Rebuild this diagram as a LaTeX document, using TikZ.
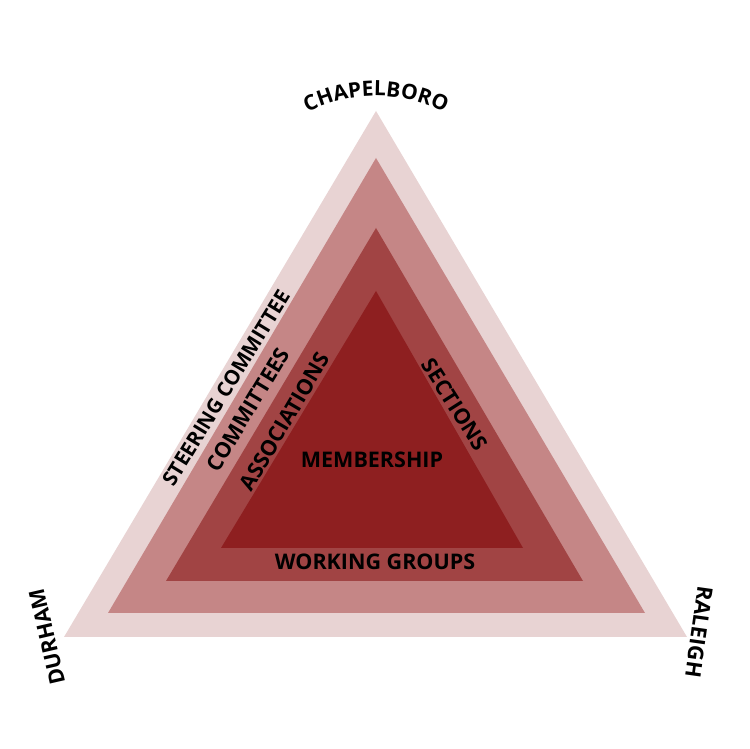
\documentclass[tikz,border=0pt]{standalone}
\usepackage{fontspec}
\setmainfont{Open Sans}
\usetikzlibrary{decorations.text}
\definecolor{tone1}{HTML}{E8D3D3}
\definecolor{tone2}{HTML}{C58686}
\definecolor{tone3}{HTML}{A14444}
\definecolor{tone4}{HTML}{8E1F20}
\tikzset{
  lbl/.style={font=\fontsize{21.5}{21.5}\selectfont\bfseries, text=black, inner sep=0pt},
}
\begin{document}
\begin{tikzpicture}[x=1pt,y=1pt]
\useasboundingbox (0,0) rectangle (750,749);
\fill[white] (0,0) rectangle (750,749);
% triangles
\fill[tone1] (376,638) -- (64,112) -- (687,112) -- cycle;
\fill[tone2] (376,591) -- (108,136) -- (645,136) -- cycle;
\fill[tone3] (376,521) -- (166,168) -- (583,168) -- cycle;
\fill[tone4] (376,458) -- (221,201) -- (523,201) -- cycle;
% labels
\node[lbl] (mem) at (372,289) {MEMBERSHIP};
\node[lbl] (wg) at (375,187) {WORKING GROUPS};
\node[lbl, rotate=58.5, font=\fontsize{20.5}{20.5}\selectfont\bfseries] (sc) at (226,361) {STEERING COMMITTEE};
\node[lbl, rotate=58.8] (com) at (248,339.5) {COMMITTEES};
\node[lbl, rotate=59.5] (asc) at (284.5,327.5) {ASSOCIATIONS};
\node[lbl, rotate=-57.5] (sec) at (455,344.5) {SECTIONS};
\node[lbl, rotate=103] (dur) at (47,112) {DURHAM};
\node[lbl, rotate=-98] (ral) at (699,117) {RALEIGH};
% curved top label
\path[decorate, decoration={text along path, text align=center,
  text={|\fontsize{21}{21}\selectfont\bfseries|CHAPELBORO}}]
  ({376+150*cos(135)},{503+150*sin(135)}) arc[start angle=135, end angle=45, radius=150];
\end{tikzpicture}
\end{document}
